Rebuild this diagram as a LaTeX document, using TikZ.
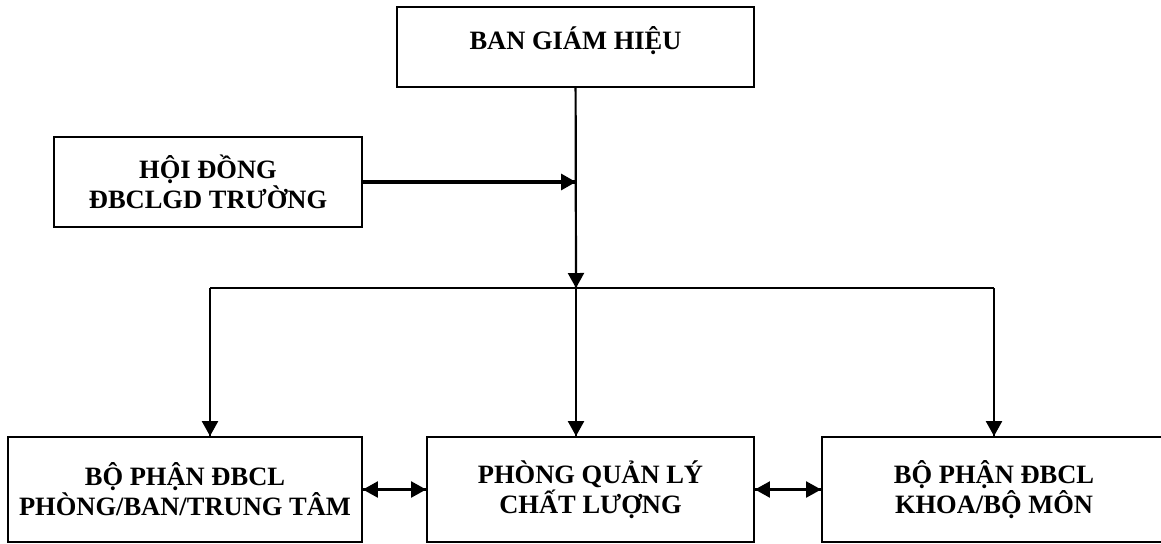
\documentclass[tikz,border=0pt]{standalone}
\usepackage{fontspec}
\setmainfont{Liberation Serif}
\usepackage{tikz}
\usetikzlibrary{arrows.meta,decorations.markings}
\tikzstyle{khung}=[rectangle, draw, line width=0.9pt, inner sep=0pt, align=center,
    font=\bfseries\fontsize{13.25}{15}\selectfont]
\providecommand{\khung}{\node[khung]}

\begin{document}
\begin{tikzpicture}[x=0.5pt, y=-0.5pt,
    every edge/.style={
        draw, line width=1.1pt,
        postaction={decorate,
                    decoration={markings,mark=at position 1 with {\arrow{Triangle[length=7.5pt,width=8pt]}}}
                   }
        },
    haichieu/.style={
        postaction={decorate,
                    decoration={markings,mark=at position 0 with {\arrowreversed{Triangle[length=7.5pt,width=8pt]}}}
                   }
        }
]
\useasboundingbox (0,0) rectangle (1161,543);
\khung (BGH) at (575.5,47) [minimum width=178.5pt, text height=21pt, text depth=19pt] {BAN GIÁM HIỆU};
\khung (HD) at (208,182) [minimum width=154pt, minimum height=45pt] {HỘI ĐỒNG\\ĐBCLGD TRƯỜNG};
\khung (P1) at (185,489.5) [minimum width=177pt, minimum height=52.5pt] {BỘ PHẬN ĐBCL\\PHÒNG/BAN/TRUNG TÂM};
\khung (PQL) at (590.5,489.5) [minimum width=163.5pt, minimum height=52.5pt] {PHÒNG QUẢN LÝ\\CHẤT LƯỢNG};
\khung (P2) at (994,489.5) [minimum width=172pt, minimum height=52.5pt] {BỘ PHẬN ĐBCL\\KHOA/BỘ MÔN};
\coordinate (giua) at (576,182);
\coordinate (noi) at (576,288);
\coordinate (trai) at (210,288);
\coordinate (phai) at (994,288);
\draw[line width=1.1pt] (trai) -- (phai);
\path
(BGH) edge (noi)
(HD) edge [line width=1.6pt] (giua)
(trai) edge (trai |- P1.north)
(noi) edge (noi |- PQL.north)
(phai) edge (phai |- P2.north)
(P1) edge [haichieu] (PQL)
(PQL) edge [haichieu] (P2)
;
\end{tikzpicture}
\end{document}
